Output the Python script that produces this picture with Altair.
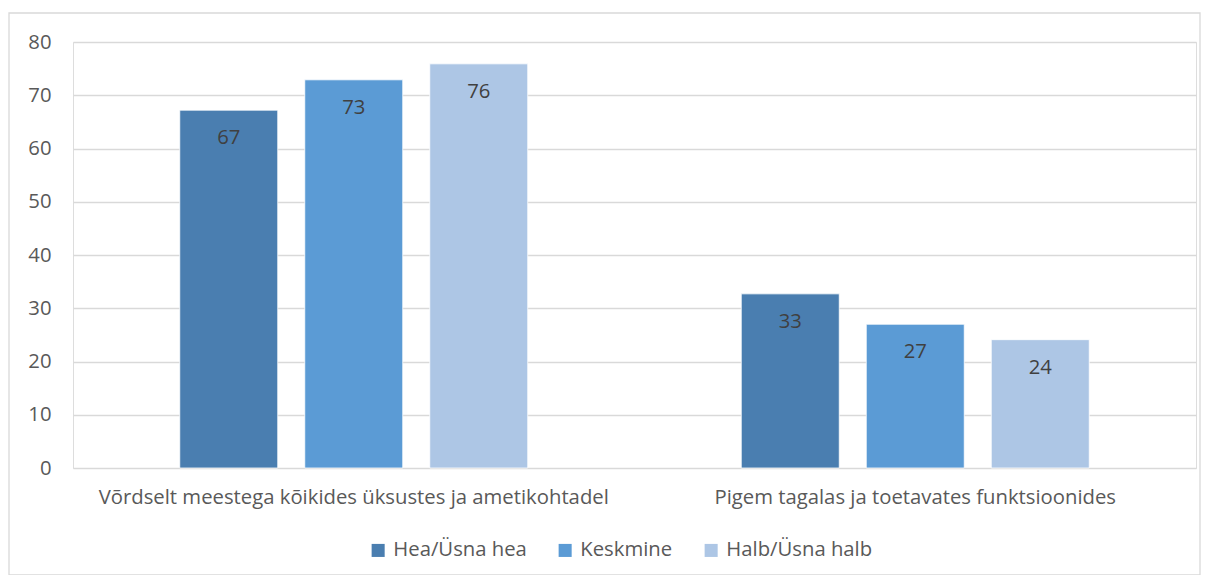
import altair as alt
import pandas as pd

categories = ["Võrdselt meestega kõikides üksustes ja ametikohtadel",
              "Pigem tagalas ja toetavates funktsioonides"]
series = ["Hea/Üsna hea", "Keskmine", "Halb/Üsna halb"]
values_hea = [67.2, 32.7]
values_kesk = [72.9, 27.0]
values_halb = [75.9, 24.1]
colors = ["#4a7eb0", "#5b9bd5", "#adc6e5"]

rows = []
for s, vals in zip(series, [values_hea, values_kesk, values_halb]):
    for c, v in zip(categories, vals):
        rows.append({"cat": c, "series": s, "value": v})
df = pd.DataFrame(rows)

FONT = "Open Sans"
FS = 20.3

x = alt.X("cat:N", sort=categories, title=None,
          scale=alt.Scale(paddingInner=0, paddingOuter=0),
          axis=alt.Axis(labelAngle=0, labelFontSize=FS, labelColor="#595959",
                        labelPadding=19, ticks=False, domain=False, labelLimit=800))
xo = alt.XOffset("series:N", sort=series,
                 scale=alt.Scale(paddingInner=0.216, paddingOuter=0.854))
y = alt.Y("value:Q", title=None,
          scale=alt.Scale(domain=[0, 80], nice=False),
          axis=alt.Axis(values=list(range(0, 81, 10)), labelFontSize=FS,
                        labelColor="#595959", labelPadding=22, ticks=False,
                        domain=False, gridColor="#d9d9d9", gridWidth=1.3))

bars = alt.Chart(df).mark_bar(stroke="white", strokeWidth=0.8).encode(
    x=x, xOffset=xo, y=y,
    color=alt.Color("series:N", sort=series,
                    scale=alt.Scale(domain=series, range=colors),
                    legend=alt.Legend(title=None, orient="none", direction="horizontal",
                                      legendX=295, legendY=498, symbolType="square",
                                      symbolSize=170, symbolStrokeWidth=0,
                                      labelFontSize=FS, labelColor="#595959",
                                      columnPadding=28, labelOffset=5)),
)

labels = alt.Chart(df).mark_text(baseline="middle", dy=28, fontSize=FS,
                                 color="#404040", font=FONT).encode(
    x=alt.X("cat:N", sort=categories), xOffset=alt.XOffset("series:N", sort=series),
    y="value:Q",
    text=alt.Text("value:Q", format=".0f"),
)

border = alt.Chart(pd.DataFrame({"a": [0]})).mark_rect(
    fill=None, stroke="#d9d9d9", strokeWidth=1.3, clip=False).encode(
    x=alt.value(-64), x2=alt.value(1127), y=alt.value(-29), y2=alt.value(533))

chart = alt.layer(border, bars, labels).properties(
    width=1123, height=426,
    autosize=alt.AutoSizeParams(type="none"),
    padding={"left": 65, "top": 34, "right": 5, "bottom": 107},
).configure_view(stroke=None).configure(font=FONT)

chart.save("out.html", embed_options={"renderer": "svg", "actions": False})
